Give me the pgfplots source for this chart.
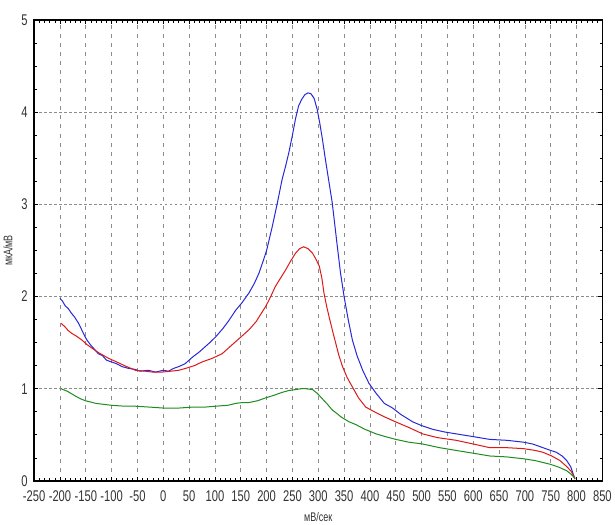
\documentclass[border=0pt]{standalone}
\usepackage{pgfplots}
\pgfplotsset{compat=1.18}
\usepackage{fontspec}
\setmainfont{Liberation Sans}[FakeStretch=0.72]
\definecolor{cblue}{RGB}{40,40,215}
\definecolor{cred}{RGB}{220,25,25}
\definecolor{cgreen}{RGB}{30,140,30}
\definecolor{cgrid}{RGB}{140,140,140}
\begin{document}
\begin{tikzpicture}
\begin{axis}[
  name=main,
  scale only axis,
  width=566bp, height=459bp,
  xmin=-250, xmax=850, ymin=0, ymax=5,
  xtick distance=50, ytick distance=1,
  minor x tick num=4, minor y tick num=3,
  tick align=inside,
  major tick length=4bp, minor tick length=2.5bp,
  grid=major,
  x grid style={cgrid, dash pattern=on 4bp off 5bp, line width=0.6bp},
  y grid style={cgrid, dash pattern=on 2.5bp off 2.5bp, line width=0.8bp},
  axis line style={black, line width=1.3bp},
  tick style={black, line width=0.6bp},
  /pgf/number format/assume math mode=true,
  /pgf/number format/1000 sep={},
  ticklabel style={font=\fontsize{15.5}{16}\selectfont, text=black!80},
  xticklabel style={yshift=-6bp},
  yticklabel style={xshift=-3bp},
  xlabel={мВ/сек}, ylabel={мкА/мВ},
  label style={font=\fontsize{12.5}{13}\selectfont, text=black!80},
  xlabel shift=4bp,
  ylabel shift=2bp,
  clip=true,
]
\addplot[cblue, line width=1bp] coordinates {
(-200,1.98) (-195,1.95) (-190,1.90) (-184,1.87) (-178,1.82) (-172,1.78) (-164,1.71) (-158,1.64) (-152,1.57) (-148,1.53) (-140,1.47) (-132,1.42) (-126,1.38) (-118,1.36) (-110,1.31) (-100,1.29) (-90,1.27) (-80,1.24) (-67,1.22) (-55,1.21) (-45,1.19) (-29,1.20) (-15,1.18) (0,1.20) (10,1.19) (20,1.22) (30,1.24) (42,1.27) (56,1.34) (70,1.40) (88,1.49) (101,1.56) (115,1.65) (127,1.74) (140,1.85) (152,1.93) (166,2.04) (176,2.14) (185,2.25) (193,2.38) (200,2.50) (211,2.76) (221,3.02) (230,3.27) (237,3.42) (243,3.56) (250,3.75) (256,3.93) (262,4.07) (268,4.14) (274,4.19) (280,4.21) (286,4.20) (292,4.15) (298,4.03) (303,3.88) (308,3.71) (313,3.52) (318,3.34) (327,3.02) (332,2.78) (337,2.54) (343,2.26) (350,2.00) (358,1.75) (366,1.53) (375,1.36) (386,1.20) (398,1.06) (412,0.95) (428,0.84) (444,0.79) (460,0.72) (483,0.64) (500,0.60) (521,0.56) (545,0.53) (567,0.51) (600,0.48) (632,0.45) (665,0.44) (697,0.42) (715,0.40) (735,0.36) (750,0.33) (761,0.31) (772,0.27) (781,0.22) (789,0.15) (795,0.05) (797,0.02)
};
\addplot[cred, line width=1bp] coordinates {
(-198,1.71) (-190,1.67) (-184,1.63) (-177,1.60) (-168,1.57) (-158,1.53) (-148,1.48) (-138,1.44) (-125,1.39) (-106,1.33) (-90,1.29) (-75,1.25) (-54,1.20) (-35,1.19) (-20,1.18) (-3,1.18) (15,1.19) (30,1.20) (43,1.22) (60,1.25) (75,1.29) (95,1.33) (114,1.38) (128,1.45) (140,1.51) (152,1.57) (166,1.64) (180,1.73) (190,1.82) (198,1.89) (208,2.00) (217,2.11) (227,2.20) (237,2.29) (246,2.38) (256,2.47) (264,2.52) (272,2.54) (280,2.52) (289,2.47) (296,2.40) (302,2.33) (307,2.20) (311,2.04) (316,1.90) (321,1.78) (328,1.62) (334,1.49) (340,1.36) (347,1.24) (356,1.12) (366,1.02) (378,0.90) (392,0.80) (412,0.74) (430,0.69) (450,0.64) (475,0.58) (502,0.51) (530,0.47) (567,0.44) (600,0.40) (632,0.36) (665,0.36) (697,0.35) (720,0.33) (735,0.31) (752,0.27) (768,0.22) (782,0.15) (790,0.10) (794,0.06) (797,0.02)
};
\addplot[cgreen, line width=1bp] coordinates {
(-198,1.00) (-185,0.97) (-170,0.92) (-160,0.89) (-151,0.87) (-130,0.84) (-100,0.82) (-75,0.81) (-54,0.81) (-25,0.80) (0,0.79) (30,0.79) (56,0.80) (80,0.80) (101,0.81) (125,0.82) (140,0.84) (153,0.85) (166,0.85) (183,0.87) (198,0.90) (215,0.93) (230,0.96) (243,0.98) (255,0.99) (268,1.00) (276,1.00) (289,0.99) (298,0.95) (308,0.89) (318,0.83) (327,0.77) (334,0.74) (345,0.69) (360,0.64) (373,0.61) (390,0.56) (412,0.51) (430,0.48) (450,0.45) (475,0.42) (502,0.40) (535,0.36) (567,0.33) (600,0.30) (632,0.27) (665,0.26) (697,0.24) (720,0.22) (749,0.18) (765,0.15) (781,0.11) (790,0.07) (797,0.03)
};
\end{axis}
\path ([yshift=20bp]main.north) -- ([yshift=20bp]main.north);
\end{tikzpicture}
\end{document}
